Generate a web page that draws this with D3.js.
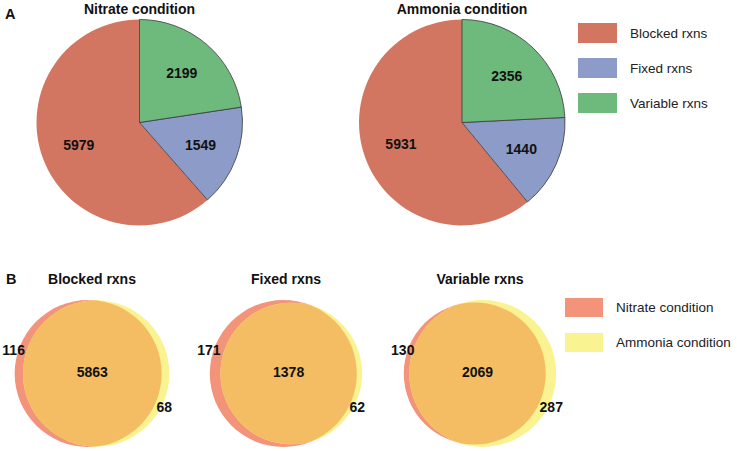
<!DOCTYPE html>
<html>
<head>
<meta charset="utf-8">
<script src="https://cdn.jsdelivr.net/npm/d3@7/dist/d3.min.js"></script>
<style>
  html, body { margin: 0; padding: 0; background: #fff; }
  svg { display: block; font-family: "Liberation Sans", Arial, sans-serif; }
</style>
</head>
<body>
<svg id="chart" width="737" height="451"></svg>
<script>
// ---------- data ----------
const pieCategories = ["Blocked rxns", "Fixed rxns", "Variable rxns"];
const pieConditions = ["Nitrate condition", "Ammonia condition"];
const nitrateValues = [5979, 1549, 2199];
const ammoniaValues = [5931, 1440, 2356];

const vennCategories = ["Blocked rxns", "Fixed rxns", "Variable rxns"];
const vennSets = ["Nitrate condition", "Ammonia condition"];
const nitrateOnly = [116, 171, 130];
const overlapBoth = [5863, 1378, 2069];
const ammoniaOnly = [68, 62, 287];

// ---------- style ----------
const pieColors = ["#D37661", "#8C9BC8", "#6EBA7D"];
const vennColors = { nitrate: "#F2937A", ammonia: "#FAF391", both: "#F4BD64" };

const svg = d3.select("#chart");

// ---------- panel A: pies ----------
const pieR = 103;
const pieX = d3.scalePoint().domain(pieConditions).range([139.5, 462]);
const pieCY = 122.5;
const pieGen = d3.pie().sort(null).startAngle(2 * Math.PI).endAngle(0);
const arc = d3.arc().innerRadius(0).outerRadius(pieR);
const labelArc = d3.arc().innerRadius(pieR * 0.63).outerRadius(pieR * 0.63);

svg.append("text").attr("x", 5).attr("y", 19)
  .attr("font-size", 14.5).attr("font-weight", "bold").attr("fill", "#111").text("A");

[nitrateValues, ammoniaValues].forEach((vals, i) => {
  const cond = pieConditions[i];
  const g = svg.append("g").attr("transform", `translate(${pieX(cond)},${pieCY})`);
  const arcs = pieGen(vals);
  g.selectAll("path").data(arcs).join("path")
    .attr("d", arc)
    .attr("fill", (d, j) => pieColors[j])
    .attr("stroke", (d, j) => j === 0 ? "none" : "#3a3a3a")
    .attr("stroke-width", 0.8);
  g.selectAll("text").data(arcs).join("text")
    .attr("transform", d => `translate(${labelArc.centroid(d)})`)
    .attr("text-anchor", "middle").attr("dy", "0.36em")
    .attr("font-size", 14).attr("font-weight", "bold").attr("fill", "#111")
    .text(d => d.data);
  svg.append("text").attr("x", pieX(cond)).attr("y", 14)
    .attr("text-anchor", "middle").attr("font-size", 14).attr("font-weight", "bold")
    .attr("fill", "#111").text(cond);
});

// legend A
const legA = svg.append("g");
const legAY = d3.scalePoint().domain(pieCategories).range([33, 103]);
pieCategories.forEach((c, j) => {
  legA.append("rect").attr("x", 578).attr("y", legAY(c) - 10).attr("width", 39).attr("height", 20)
    .attr("fill", pieColors[j]);
  legA.append("text").attr("x", 630).attr("y", legAY(c)).attr("dy", "0.35em")
    .attr("font-size", 13.5).attr("fill", "#222").text(c);
});

// ---------- panel B: Venn diagrams ----------
svg.append("text").attr("x", 6).attr("y", 284)
  .attr("font-size", 14.5).attr("font-weight", "bold").attr("fill", "#111").text("B");

const vennX = d3.scalePoint().domain(vennCategories).range([92, 480]);
const vennCY = 373.5;
const Rmax = 73.5;
const centerOffset = 8; // horizontal distance between the two circle centres, as drawn in the figure

const defs = svg.append("defs");

vennCategories.forEach((cat, i) => {
  const nTot = nitrateOnly[i] + overlapBoth[i];
  const aTot = ammoniaOnly[i] + overlapBoth[i];
  const maxTot = Math.max(nTot, aTot);
  const rScale = d3.scaleSqrt().domain([0, maxTot]).range([0, Rmax]);
  const rN = rScale(nTot), rA = rScale(aTot);
  const d = centerOffset;
  const left = -rN, right = d + rA;
  const shift = vennX(cat) - (left + right) / 2;
  const cxN = shift, cxA = shift + d;

  const g = svg.append("g");
  defs.append("clipPath").attr("id", "clipN" + i)
    .append("circle").attr("cx", cxN).attr("cy", vennCY).attr("r", rN);
  g.append("circle").attr("cx", cxN).attr("cy", vennCY).attr("r", rN).attr("fill", vennColors.nitrate);
  g.append("circle").attr("cx", cxA).attr("cy", vennCY).attr("r", rA).attr("fill", vennColors.ammonia);
  g.append("circle").attr("cx", cxA).attr("cy", vennCY).attr("r", rA)
    .attr("fill", vennColors.both).attr("clip-path", `url(#clipN${i})`);

  const lab = (x, y, t) => g.append("text").attr("x", x).attr("y", y).attr("dy", "0.36em")
    .attr("text-anchor", "middle").attr("font-size", 14).attr("font-weight", "bold")
    .attr("fill", "#111").text(t);
  lab(cxN - rN - 1, vennCY - 24, nitrateOnly[i]);
  lab(((cxA - rA) + (cxN + rN)) / 2, vennCY - 1.5, overlapBoth[i]);
  lab(cxA + rA - 5, vennCY + 33, ammoniaOnly[i]);

  svg.append("text").attr("x", vennX(cat)).attr("y", 284)
    .attr("text-anchor", "middle").attr("font-size", 14).attr("font-weight", "bold")
    .attr("fill", "#111").text(cat);
});

// legend B
const legB = svg.append("g");
const legBY = d3.scalePoint().domain(vennSets).range([307.5, 342.5]);
const vennSetColors = [vennColors.nitrate, vennColors.ammonia];
vennSets.forEach((s, j) => {
  legB.append("rect").attr("x", 565).attr("y", legBY(s) - 9.5).attr("width", 38).attr("height", 19)
    .attr("fill", vennSetColors[j]);
  legB.append("text").attr("x", 616).attr("y", legBY(s)).attr("dy", "0.35em")
    .attr("font-size", 13.5).attr("fill", "#222").text(s);
});
</script>
</body>
</html>
